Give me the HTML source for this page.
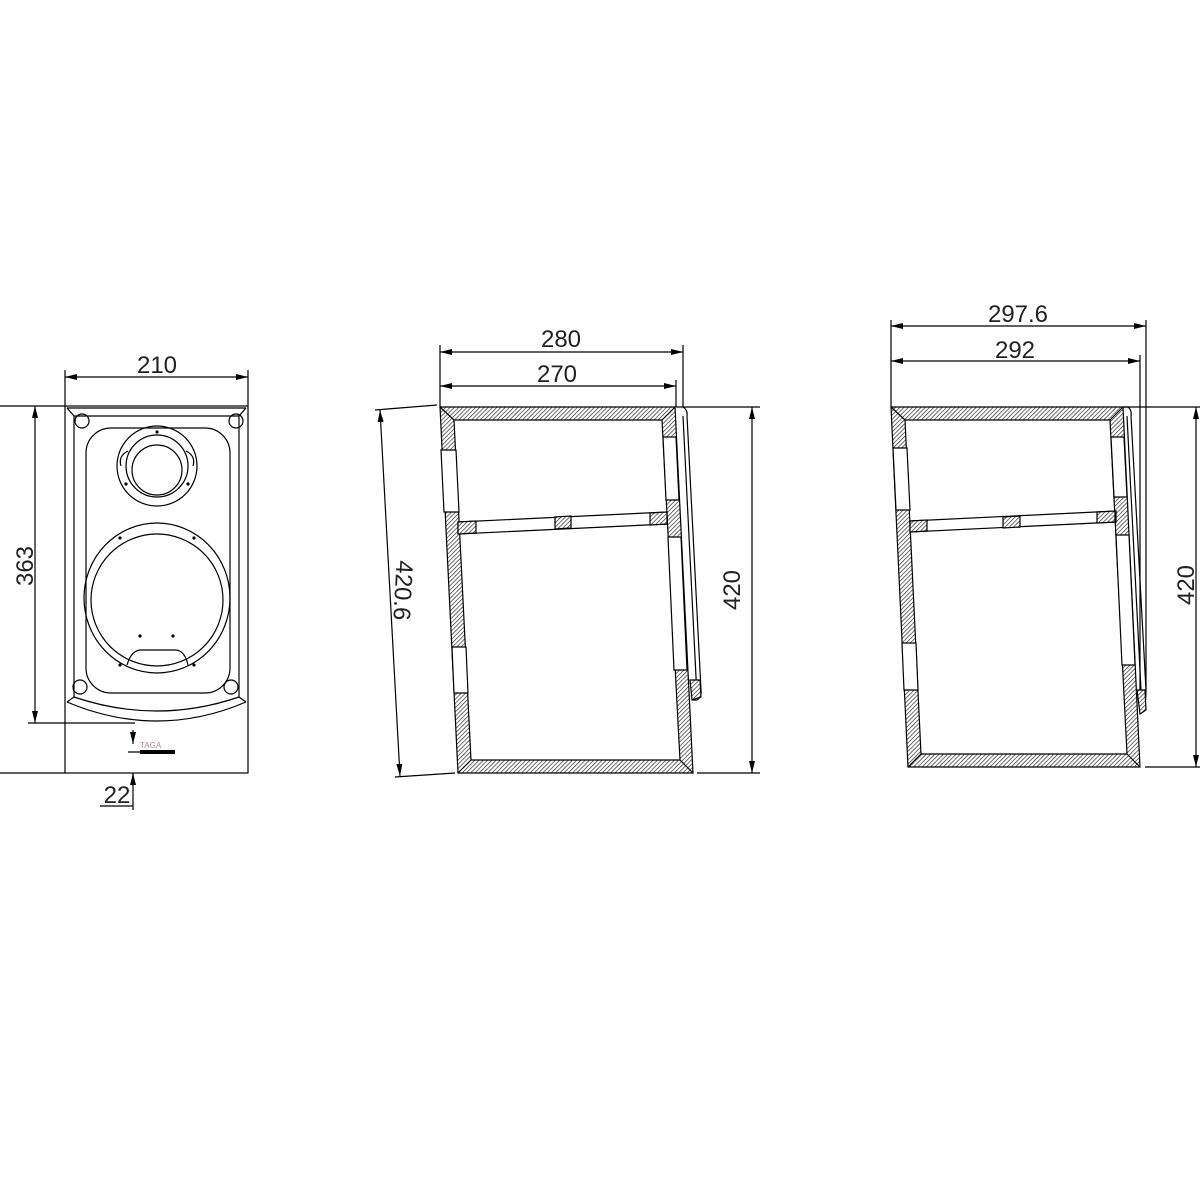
<!DOCTYPE html>
<html><head><meta charset="utf-8"><style>
html,body{margin:0;padding:0;background:#fff}
svg{display:block}
text{font-family:"Liberation Sans",sans-serif;font-size:24px;fill:#222;font-weight:normal}
</style></head><body>
<svg width="1200" height="1200" viewBox="0 0 1200 1200" xmlns="http://www.w3.org/2000/svg">
<defs>
<pattern id="h" patternUnits="userSpaceOnUse" width="3" height="3" patternTransform="rotate(45)">
<rect width="3" height="3" fill="#fff"/><line x1="0" y1="0" x2="0" y2="3" stroke="#222" stroke-width="1.3"/>
</pattern>
<marker id="a" viewBox="0 0 12 6" refX="12" refY="3" markerWidth="12" markerHeight="6" orient="auto-start-reverse" markerUnits="userSpaceOnUse"><path d="M0,0 L12,3 L0,6 Z" fill="#000"/></marker>
</defs>
<g stroke="#000" stroke-width="1.2" fill="none">
<!-- LEFT FRONT VIEW -->
<rect x="65" y="406" width="183" height="367"/>
<line x1="65" y1="370" x2="65" y2="406"/><line x1="248" y1="370" x2="248" y2="406"/>
<line x1="65" y1="377" x2="248" y2="377" marker-start="url(#a)" marker-end="url(#a)"/>
<line x1="0" y1="406" x2="65" y2="406"/><line x1="0" y1="773" x2="65" y2="773"/>
<line x1="28" y1="723" x2="135" y2="723"/>
<line x1="35" y1="406" x2="35" y2="723" marker-start="url(#a)" marker-end="url(#a)"/>
<!-- bevel -->
<path d="M67,408 L74,416 L74,697 L67,702"/>
<path d="M246,408 L239,416 L239,697 L246,702"/>
<path d="M67,408 L246,408"/>
<path d="M74,416 L239,416"/>
<path d="M67,702 Q157,740 246,702"/>
<path d="M74,697 Q157,725 239,697"/>
<!-- baffle -->
<rect x="86" y="428" width="144" height="265" rx="25"/>
<circle cx="82" cy="421" r="7"/><circle cx="236" cy="421" r="7"/>
<circle cx="80" cy="687" r="7"/><circle cx="231" cy="687" r="7"/>
<!-- tweeter -->
<circle cx="157" cy="466" r="40"/>
<circle cx="157" cy="466" r="31"/>
<circle cx="157" cy="470" r="25"/>
<path d="M128,451 Q118,456 121,466 M186,451 Q196,456 193,466"/>
<!-- woofer -->
<ellipse cx="157" cy="598" rx="73" ry="75"/>
<circle cx="157" cy="600" r="66"/>
<path d="M127,665 Q131,651 140,650 L176,650 Q185,651 188,665"/>
<line x1="133" y1="730" x2="133" y2="744" marker-end="url(#a)"/>
<line x1="133" y1="784" x2="133" y2="773" marker-end="url(#a)"/>
<line x1="133" y1="773" x2="133" y2="810"/>
<line x1="128" y1="752" x2="148" y2="752"/>
<line x1="100" y1="806" x2="133" y2="806"/>
</g>
<g fill="#000">
<circle cx="157" cy="432" r="1.6"/><circle cx="126" cy="484" r="1.6"/><circle cx="188" cy="484" r="1.6"/>
<circle cx="120" cy="538" r="1.6"/><circle cx="194" cy="538" r="1.6"/>
<circle cx="140" cy="636" r="1.6"/><circle cx="173" cy="636" r="1.6"/>
<circle cx="120" cy="665" r="1.6"/><circle cx="194" cy="665" r="1.6"/>
<rect x="140" y="750" width="35" height="4"/>
</g>
<text x="140" y="748" style="font-size:8px;fill:#b88">TAGA</text>
<text x="157" y="373" text-anchor="middle">210</text>
<text transform="translate(33,566) rotate(-90)" text-anchor="middle">363</text>
<text x="117" y="803" text-anchor="middle">22</text>

<!-- MIDDLE SECTION -->
<g stroke="#000" stroke-width="1.2">
<path d="M440,407 L675,407 L693,773 L458,773 Z" fill="url(#h)"/>
<path d="M454,420 L662,420 L680,760 L471,760 Z" fill="#fff"/>
<path d="M440,407 L454,420 M675,407 L662,420 M693,773 L680,760 M458,773 L471,760" fill="none"/>
<path d="M441,450 L456,450 L459,512 L444,512 Z" fill="#fff"/>
<path d="M452,647 L466,647 L468,693 L454,693 Z" fill="#fff"/>
<path d="M663,437 L676,437 L679,500 L666,500 Z" fill="#fff"/>
<path d="M668,537 L681,537 L687,670 L674,670 Z" fill="#fff"/>
<path d="M458,522 L667,512 L667,524 L458,534 Z" fill="#fff"/>
<path d="M458,522 L476,521 L476,533 L458,534 Z" fill="url(#h)"/>
<path d="M555,517 L571,516 L571,528 L555,529 Z" fill="url(#h)"/>
<path d="M650,513 L667,512 L667,524 L650,525 Z" fill="url(#h)"/>
<path d="M676,407 L683,407 Q688,410 687,416 L701,690 Q702,697 697,700 L692,700" fill="none"/>
<path d="M683,416 L697,697" fill="none"/>
<path d="M690,680 L700,680 L701,697 L692,700 Z" fill="url(#h)"/>
</g>
<g stroke="#000" stroke-width="1.2" fill="none">
<line x1="440" y1="345" x2="440" y2="407"/><line x1="683" y1="345" x2="683" y2="407"/>
<line x1="676" y1="380" x2="676" y2="407"/>
<line x1="440" y1="352" x2="683" y2="352" marker-start="url(#a)" marker-end="url(#a)"/>
<line x1="440" y1="386" x2="676" y2="386" marker-start="url(#a)" marker-end="url(#a)"/>
<line x1="683" y1="407" x2="760" y2="407"/><line x1="697" y1="773" x2="760" y2="773"/>
<line x1="752" y1="407" x2="752" y2="773" marker-start="url(#a)" marker-end="url(#a)"/>
<line x1="375" y1="410" x2="437" y2="405"/><line x1="395" y1="777" x2="455" y2="773"/>
<line x1="380" y1="410" x2="400" y2="776" marker-start="url(#a)" marker-end="url(#a)"/>
</g>
<text x="561" y="347" text-anchor="middle">280</text>
<text x="557" y="382" text-anchor="middle">270</text>
<text transform="translate(740,590) rotate(-90)" text-anchor="middle">420</text>
<text transform="translate(395,590) rotate(93)" text-anchor="middle">420.6</text>

<!-- RIGHT SECTION -->
<g stroke="#000" stroke-width="1.2">
<path d="M891,407 L1123,407 L1140,767 L908,767 Z" fill="url(#h)"/>
<path d="M905,420 L1110,420 L1127,754 L921,754 Z" fill="#fff"/>
<path d="M891,407 L905,420 M1123,407 L1110,420 M1140,767 L1127,754 M908,767 L921,754" fill="none"/>
<path d="M893,448 L907,448 L910,510 L896,510 Z" fill="#fff"/>
<path d="M902,643 L916,643 L918,690 L904,690 Z" fill="#fff"/>
<path d="M1111,437 L1124,437 L1127,497 L1114,497 Z" fill="#fff"/>
<path d="M1116,535 L1129,535 L1135,665 L1122,665 Z" fill="#fff"/>
<path d="M910,521 L1116,511 L1116,522 L910,532 Z" fill="#fff"/>
<path d="M910,521 L927,520 L927,531 L910,532 Z" fill="url(#h)"/>
<path d="M1003,517 L1020,516 L1020,527 L1003,528 Z" fill="url(#h)"/>
<path d="M1097,512 L1115,511 L1115,522 L1097,523 Z" fill="url(#h)"/>
<path d="M1123,407 L1128,407 Q1132,410 1131,416 L1146,690 Q1146,710 1140,714" fill="none"/>
<path d="M1127,416 L1141,690" fill="none"/>
<path d="M1137,690 L1145,690 L1146,710 L1140,714 Z" fill="url(#h)"/>
</g>
<g stroke="#000" stroke-width="1.2" fill="none">
<line x1="891" y1="320" x2="891" y2="407"/><line x1="1146" y1="320" x2="1146" y2="690"/>
<line x1="1140" y1="355" x2="1140" y2="690"/>
<line x1="891" y1="326" x2="1146" y2="326" marker-start="url(#a)" marker-end="url(#a)"/>
<line x1="891" y1="361" x2="1140" y2="361" marker-start="url(#a)" marker-end="url(#a)"/>
<line x1="1123" y1="407" x2="1200" y2="407"/><line x1="1145" y1="767" x2="1200" y2="767"/>
<line x1="1196" y1="407" x2="1196" y2="767" marker-start="url(#a)" marker-end="url(#a)"/>
</g>
<text x="1018" y="322" text-anchor="middle">297.6</text>
<text x="1015" y="358" text-anchor="middle">292</text>
<text transform="translate(1194,585) rotate(-90)" text-anchor="middle">420</text>
</svg>
</body></html>
